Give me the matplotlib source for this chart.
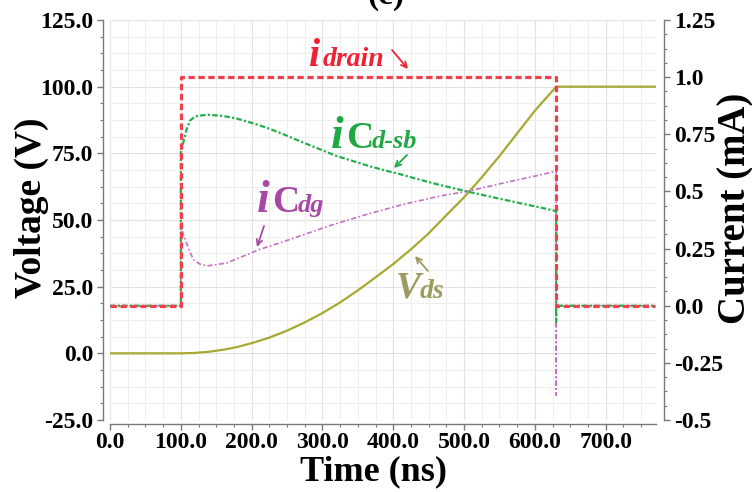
import matplotlib
matplotlib.use("Agg")
import matplotlib.pyplot as plt
from matplotlib.ticker import MultipleLocator, FixedLocator, FixedFormatter

W, H = 752, 492

# ---- data -------------------------------------------------------------
# drain current step (mA)
t_drain = [0, 100, 100, 630, 630, 770]
i_drain = [0.0, 0.0, 1.0, 1.0, 0.0, 0.0]

# drain-source voltage (V)
t_vds = [0, 100, 120, 140, 160, 180, 200, 225, 250, 275, 300, 325, 350,
         375, 400, 425, 450, 475, 500, 525, 550, 575, 600, 630, 770]
v_ds = [0.0, 0.0, 0.15, 0.6, 1.35, 2.4, 3.8, 5.9, 8.5, 11.6, 15.1, 19.1,
        23.6, 28.5, 33.5, 39.0, 45.0, 51.8, 58.5, 66.0, 74.0, 82.5, 91.0,
        100.0, 100.0]

# current through C_d-sb (mA)
t_csb = [0, 100, 100, 104, 108, 113, 120, 137, 160, 180, 200, 222, 245,
         268, 292, 320, 344, 367, 386, 410, 433, 466, 504, 540, 580, 610,
         630, 630, 630, 770]
i_csb = [0.0, 0.0, 0.668, 0.72, 0.77, 0.81, 0.828, 0.836, 0.83, 0.818,
         0.80, 0.778, 0.75, 0.72, 0.69, 0.655, 0.632, 0.61, 0.594, 0.575,
         0.555, 0.528, 0.50, 0.475, 0.448, 0.428, 0.414, -0.076, 0.0, 0.0]

# current through C_dg (mA)
t_cdg = [0, 100, 100, 104, 108, 113, 118, 127, 137, 165, 210, 240, 268,
         315, 363, 410, 466, 504, 560, 600, 630, 630, 630, 770]
i_cdg = [0.0, 0.0, 0.34, 0.31, 0.274, 0.235, 0.20, 0.182, 0.174, 0.187,
         0.245, 0.275, 0.305, 0.355, 0.40, 0.44, 0.48, 0.50, 0.54, 0.567,
         0.589, -0.39, 0.0, 0.0]

x_ticks = [0, 100, 200, 300, 400, 500, 600, 700]
x_labels = ["0.0", "100.0", "200.0", "300.0", "400.0", "500.0", "600.0", "700.0"]
v_ticks = [-25, 0, 25, 50, 75, 100, 125]
v_labels = ["-25.0", "0.0", "25.0", "50.0", "75.0", "100.0", "125.0"]
c_ticks = [-0.5, -0.25, 0.0, 0.25, 0.5, 0.75, 1.0, 1.25]
c_labels = ["-0.5", "-0.25", "0.0", "0.25", "0.5", "0.75", "1.0", "1.25"]

# ---- style ------------------------------------------------------------
plt.rcParams["font.family"] = ["Liberation Serif", "DejaVu Serif"]
plt.rcParams["font.weight"] = "bold"

RED = "#f0404e"
GREEN = "#22b04a"
MAGENTA = "#c46ec6"
OLIVE = "#a8a832"
SPINE = "#7a7a7a"

fig = plt.figure(figsize=(W / 100, H / 100), dpi=100)
ax = fig.add_axes([110 / W, 72 / H, 546 / W, 400 / H])
ax2 = ax.twinx()

# voltage axis (left)
ax.plot(t_vds, v_ds, color=OLIVE, lw=1.6, zorder=3)
ax.set_xlim(0, 771)
ax.set_ylim(-25, 125)

# current axis (right)
ax2.set_ylim(-0.5, 1.25)
ax2.plot(t_cdg, i_cdg, color=MAGENTA, lw=1.2, dashes=(3, 1.5, 1, 1.5), zorder=2)
ax2.plot(t_csb, i_csb, color=GREEN, lw=1.6, dashes=(2.5, 1, 1, 1), zorder=3)
ax2.plot(t_drain, i_drain, color=RED, lw=2.3, dashes=(2, 1.1), zorder=4)

# grid
ax.set_axisbelow(True)
ax.xaxis.set_minor_locator(MultipleLocator(25))
ax.yaxis.set_minor_locator(MultipleLocator(6.25))
ax.grid(which="major", color="#e2e2e2", lw=0.8)
ax.grid(which="minor", color="#eeeeee", lw=0.7)

ax.xaxis.set_major_locator(FixedLocator(x_ticks))
ax.xaxis.set_major_formatter(FixedFormatter(x_labels))
ax.yaxis.set_major_locator(FixedLocator(v_ticks))
ax.yaxis.set_major_formatter(FixedFormatter(v_labels))
ax2.yaxis.set_major_locator(FixedLocator(c_ticks))
ax2.yaxis.set_major_formatter(FixedFormatter(c_labels))
ax2.yaxis.set_minor_locator(MultipleLocator(0.0625))

for a in (ax, ax2):
    for s in a.spines.values():
        s.set_color(SPINE)
        s.set_linewidth(1.0)
ax.spines["top"].set_visible(False)
ax.spines["right"].set_visible(False)
ax.spines["left"].set_position(("outward", 5))
ax.spines["bottom"].set_position(("outward", 3))
for k in ("top", "left", "bottom"):
    ax2.spines[k].set_visible(False)
ax2.spines["right"].set_position(("outward", 6))

tick_font = 17
ax.tick_params(axis="both", which="major", direction="out", length=4,
               width=1, color=SPINE, labelsize=tick_font, pad=3)
ax.tick_params(axis="x", which="major", pad=2)
ax.tick_params(axis="both", which="minor", direction="out", length=2.5,
               width=0.8, color=SPINE)
ax2.tick_params(axis="y", which="major", direction="out", length=4,
                width=1, color=SPINE, labelsize=tick_font, pad=3)
ax2.tick_params(axis="y", which="minor", direction="out", length=2.5,
                width=0.8, color=SPINE)
for lab in ax.get_xticklabels() + ax.get_yticklabels() + ax2.get_yticklabels():
    lab.set_fontweight("bold")

# ---- axis titles -------------------------------------------------------
def ftext(x, y, s, **kw):
    return fig.text(x / W, 1 - y / H, s, **kw)

ftext(14, 208, "Voltage (V)", rotation=90, ha="left", va="center",
      fontsize=27, fontweight="bold")
ftext(717, 208, "Current (mA)", rotation=90, ha="left", va="center",
      fontsize=28, fontweight="bold")
ftext(373, 480, "Time (ns)", ha="center", va="baseline", fontsize=26,
      fontweight="bold")
ftext(386, 4, "(c)", ha="center", va="baseline", fontsize=24,
      fontweight="bold")

# ---- trace labels -----------------------------------------------------
def arrow(x0, y0, x1, y1, color):
    fig.add_artist(plt.Annotation(
        "", xy=(x1, H - y1), xytext=(x0, H - y0),
        xycoords="figure pixels", textcoords="figure pixels",
        arrowprops=dict(arrowstyle="->", color=color, lw=1.3,
                        shrinkA=0, shrinkB=0, mutation_scale=10)))

LRED = "#ee2233"
ftext(309, 66, "i", color=LRED, fontsize=29, style="italic", fontweight="bold")
ftext(323, 66, "drain", color=LRED, fontsize=20, style="italic", fontweight="bold")
arrow(392, 50, 408, 69, LRED)

LGREEN = "#20a844"
ftext(331, 148, "i", color=LGREEN, fontsize=33, style="italic", fontweight="bold")
ftext(346, 148, "C", color=LGREEN, fontsize=27, fontweight="bold")
ftext(372, 148, "d-sb", color=LGREEN, fontsize=19, style="italic", fontweight="bold")
arrow(407, 155, 394, 168, LGREEN)

LMAG = "#a648a6"
ftext(257, 212, "i", color=LMAG, fontsize=33, style="italic", fontweight="bold")
ftext(272, 212, "C", color=LMAG, fontsize=27, fontweight="bold")
ftext(298, 212, "dg", color=LMAG, fontsize=19, style="italic", fontweight="bold")
arrow(264, 226, 257, 247, LMAG)

LOLIVE = "#9c9c60"
ftext(396, 298, "V", color=LOLIVE, fontsize=27, style="italic", fontweight="bold")
ftext(420, 298, "ds", color=LOLIVE, fontsize=20, style="italic", fontweight="bold")
arrow(428, 271, 415, 256, LOLIVE)

fig.savefig("out.png", dpi=100)
